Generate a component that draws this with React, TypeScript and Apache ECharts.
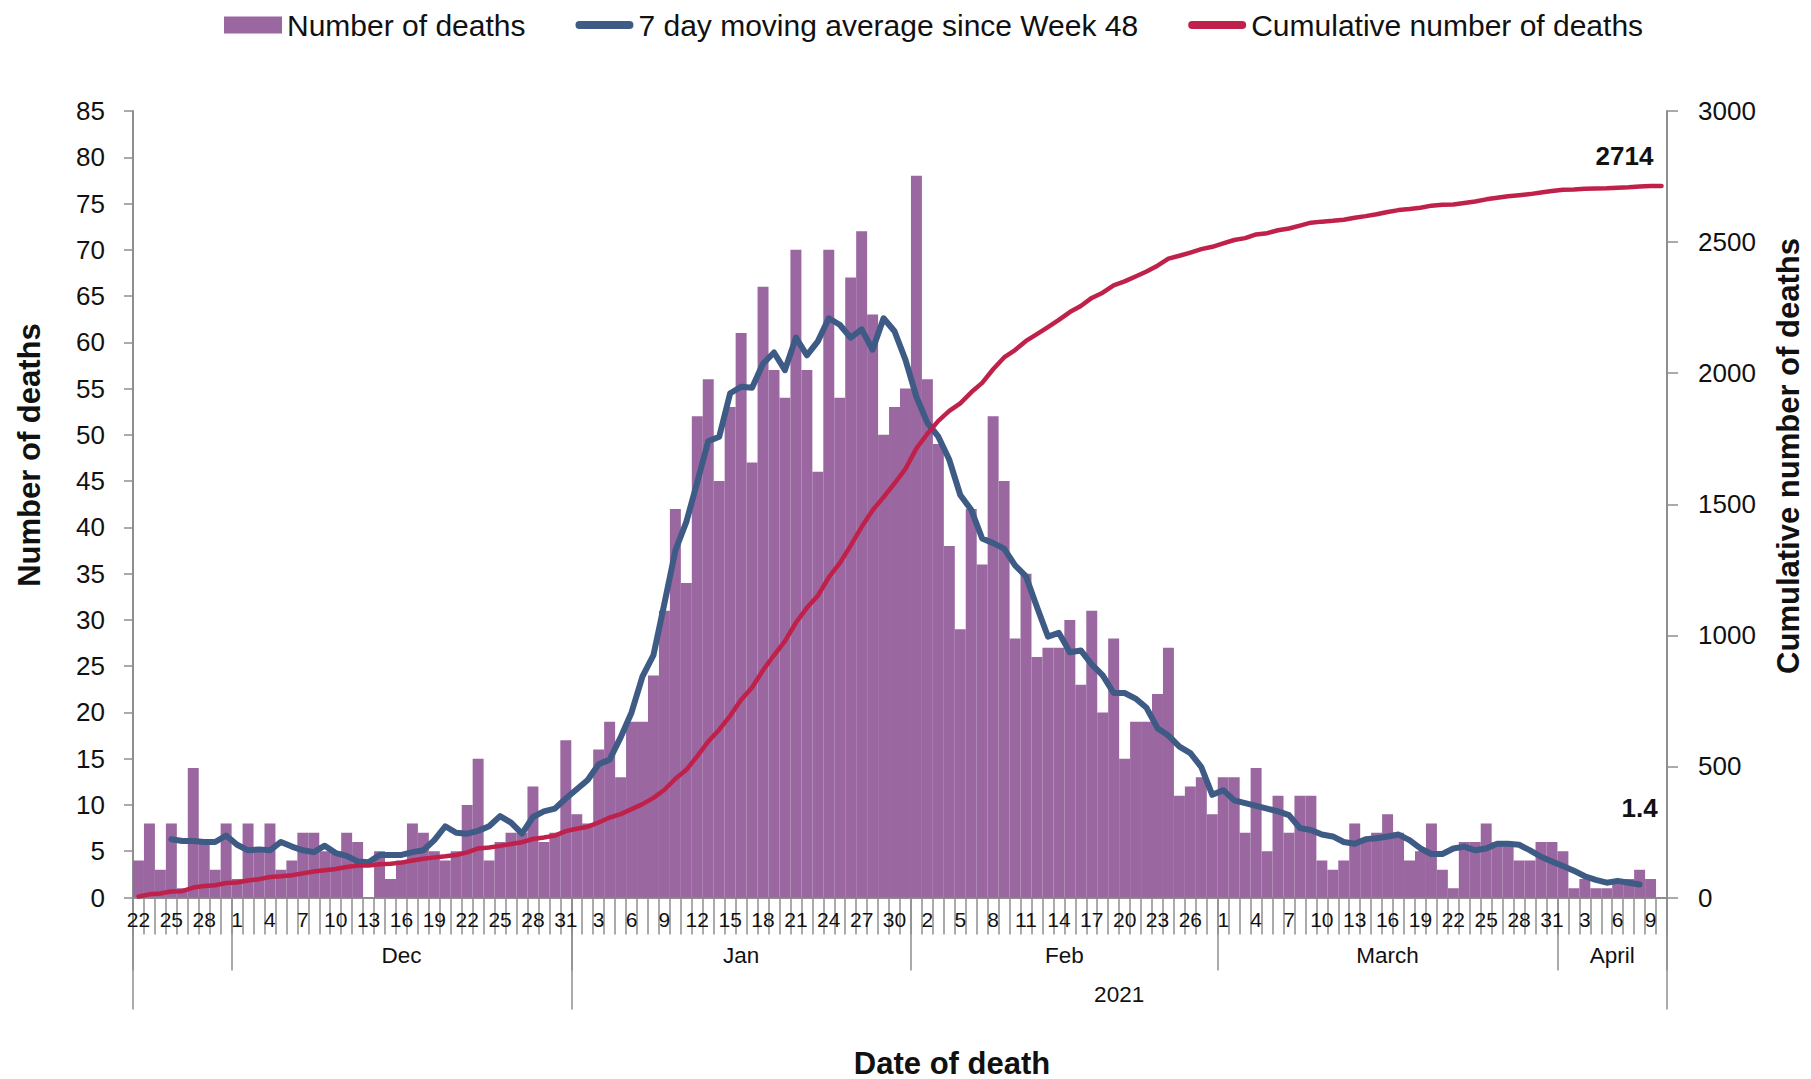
import React, { useEffect, useRef } from "react";
import * as echarts from "echarts";

// ---------- data ----------
const START_UTC = Date.UTC(2020, 10, 22); // 22 Nov 2020
const DAY_COUNT = 140; // 22 Nov 2020 .. 10 Apr 2021

const monthNames: Record<number, string> = { 10: "", 11: "Dec", 0: "Jan", 1: "Feb", 2: "March", 3: "April" };
const yearNames: Record<number, string> = { 2020: "", 2021: "2021" };

// Number of deaths per day (22 Nov -> 10 Apr)
const deaths = [
  4, 8, 3, 8, 1, 14, 6, 3, 8, 2,
  8, 5, 8, 3, 4, 7, 7, 5, 5, 7,
  6, 0, 5, 2, 4, 8, 7, 5, 4, 5,
  10, 15, 4, 6, 7, 7, 12, 6, 7, 17,
  9, 8, 16, 19, 13, 19, 19, 24, 31, 42,
  34, 52, 56, 45, 53, 61, 47, 66, 57, 54,
  70, 57, 46, 70, 54, 67, 72, 63, 50, 53,
  55, 78, 56, 49, 38, 29, 42, 36, 52, 45,
  28, 35, 26, 27, 27, 30, 23, 31, 20, 28,
  15, 19, 19, 22, 27, 11, 12, 13, 9, 13,
  13, 7, 14, 5, 11, 7, 11, 11, 4, 3,
  4, 8, 6, 7, 9, 7, 4, 5, 8, 3,
  1, 6, 6, 8, 6, 6, 4, 4, 6, 6,
  5, 1, 2, 1, 1, 2, 2, 3, 2, 0,
];

// 7 day moving average since Week 48 (25 Nov -> 8 Apr)
const movingAverage: (number | null)[] = [
  null, null, null, 6.3, 6.1, 6.1, 6.0, 6.0, 6.7, 5.7,
  5.1, 5.2, 5.1, 6.0, 5.5, 5.1, 4.9, 5.6, 4.8, 4.5,
  3.9, 3.8, 4.6, 4.6, 4.6, 4.9, 5.1, 6.2, 7.7, 7.0,
  6.9, 7.2, 7.7, 8.8, 8.1, 6.9, 8.7, 9.3, 9.6, 10.7,
  11.7, 12.7, 14.4, 14.9, 17.3, 20.0, 23.9, 26.2, 31.8, 37.5,
  40.6, 44.9, 49.3, 49.8, 54.5, 55.2, 55.1, 57.7, 58.9, 57.0,
  60.5, 58.6, 60.1, 62.6, 61.9, 60.5, 61.4, 59.2, 62.6, 61.2,
  58.1, 54.1, 51.3, 49.8, 47.3, 43.5, 41.9, 38.8, 38.3, 37.7,
  35.9, 34.7, 31.4, 28.2, 28.6, 26.5, 26.7, 25.2, 24.0, 22.1,
  22.1, 21.5, 20.5, 18.3, 17.5, 16.3, 15.6, 14.1, 11.1, 11.6,
  10.5, 10.2, 9.9, 9.6, 9.3, 8.9, 7.5, 7.3, 6.8, 6.6,
  6.0, 5.8, 6.3, 6.4, 6.6, 6.8, 6.2, 5.3, 4.7, 4.7,
  5.3, 5.5, 5.1, 5.3, 5.8, 5.8, 5.7, 5.1, 4.4, 3.9,
  3.4, 2.9, 2.3, 1.9, 1.6, 1.8, 1.6, 1.4,
];

// Cumulative number of deaths
const cumulativeDeaths = [
  4, 12, 15, 23, 24, 38, 44, 47, 55, 57,
  65, 70, 78, 81, 85, 92, 99, 104, 109, 116,
  122, 122, 127, 129, 133, 141, 148, 153, 157, 162,
  172, 187, 191, 197, 204, 211, 223, 229, 236, 253,
  262, 270, 286, 305, 318, 337, 356, 380, 411, 453,
  487, 539, 595, 640, 693, 754, 801, 867, 924, 978,
  1048, 1105, 1151, 1221, 1275, 1342, 1414, 1477, 1527, 1580,
  1635, 1713, 1769, 1818, 1856, 1885, 1927, 1963, 2015, 2060,
  2088, 2123, 2149, 2176, 2203, 2233, 2256, 2287, 2307, 2335,
  2350, 2369, 2388, 2410, 2437, 2448, 2460, 2473, 2482, 2495,
  2508, 2515, 2529, 2534, 2545, 2552, 2563, 2574, 2578, 2581,
  2585, 2593, 2599, 2606, 2615, 2622, 2626, 2631, 2639, 2642,
  2643, 2649, 2655, 2663, 2669, 2675, 2679, 2683, 2689, 2695,
  2700, 2701, 2703, 2704, 2705, 2707, 2709, 2712, 2714, 2714,
];

const leftTicks = { min: 0, max: 85, interval: 5 };
const rightTicks = { min: 0, max: 3000, interval: 500 };

// ---------- derived categories ----------
const dates = Array.from({ length: DAY_COUNT }, (_, i) => new Date(START_UTC + i * 86400000));
const dayLabels = dates.map((d) => String(d.getUTCDate()));

function segments(keyOf: (d: Date) => number) {
  const segs: { start: number; end: number; key: number }[] = [];
  dates.forEach((d, i) => {
    const k = keyOf(d);
    if (!segs.length || segs[segs.length - 1].key !== k) segs.push({ start: i, end: i + 1, key: k });
    else segs[segs.length - 1].end = i + 1;
  });
  return segs;
}
const monthSegs = segments((d) => d.getUTCMonth());
const yearSegs = segments((d) => d.getUTCFullYear());

const monthBounds = Array.from(new Set(monthSegs.flatMap((s) => [s.start, s.end])));
const yearBounds = Array.from(new Set(yearSegs.flatMap((s) => [s.start, s.end])));
const monthMids = monthSegs.filter((s) => monthNames[s.key]).map((s) => ({ v: (s.start + s.end) / 2, t: monthNames[s.key] }));
const yearMids = yearSegs.filter((s) => yearNames[s.key]).map((s) => ({ v: (s.start + s.end) / 2, t: yearNames[s.key] }));

const PURPLE = "#9A67A1";
const BLUE = "#3D5B84";
const RED = "#C0214A";
const AX = "#8E8E8E";
const TXT = "#111111";
const FONT = "'Liberation Sans', Arial, sans-serif";

const lineIcon = "path://M0,0 M58,17 M4,4.5 L54,4.5 A4,4 0 0 1 54,12.5 L4,12.5 A4,4 0 0 1 4,4.5 Z";

export default function App() {
  const ref = useRef<HTMLDivElement>(null);

  useEffect(() => {
    if (!ref.current) return;
    const chart = echarts.init(ref.current, null, { renderer: "svg" });

    const lastCum = cumulativeDeaths.length - 1;
    const lastMa = movingAverage.length - 1;

    const endLabel = (offset: number[]) => ({
      show: true,
      position: "top",
      formatter: "{c}",
      offset,
      fontSize: 26,
      fontWeight: "bold",
      color: TXT,
      fontFamily: FONT,
    });

    const option: any = {
      animation: false,
      backgroundColor: "#ffffff",
      textStyle: { fontFamily: FONT, color: TXT },
      legend: {
        top: 5,
        left: 219,
        itemWidth: 58,
        itemHeight: 17,
        itemGap: 50,
        textStyle: { fontSize: 30, color: TXT, fontFamily: FONT },
        data: [
          { name: "Number of deaths", icon: "rect" },
          { name: "7 day moving average since Week 48", icon: lineIcon },
          { name: "Cumulative number of deaths", icon: lineIcon },
        ],
      },
      grid: { left: 133, right: 144, top: 111, bottom: 181.5, containLabel: false },
      xAxis: [
        {
          type: "category",
          data: dayLabels,
          position: "bottom",
          boundaryGap: true,
          axisLine: { show: true, onZero: false, lineStyle: { color: AX, width: 2 } },
          axisTick: { show: true, interval: 0, length: 37, lineStyle: { color: AX, width: 1.5 } },
          axisLabel: {
            interval: (i: number) => i % 3 === 0,
            margin: 11,
            fontSize: 21,
            color: TXT,
            fontFamily: FONT,
          },
          splitLine: { show: false },
        },
        {
          type: "value",
          min: 0,
          max: DAY_COUNT,
          position: "bottom",
          axisLine: { show: false, onZero: false },
          splitLine: { show: false },
          axisTick: { show: true, customValues: monthBounds, length: 73, lineStyle: { color: AX, width: 1.5 } },
          axisLabel: {
            customValues: monthMids.map((m) => m.v),
            formatter: (v: number) => (monthMids.find((m) => Math.abs(m.v - v) < 0.01) || { t: "" }).t,
            margin: 46,
            fontSize: 22.5,
            color: TXT,
            fontFamily: FONT,
          },
        },
        {
          type: "value",
          min: 0,
          max: DAY_COUNT,
          position: "bottom",
          axisLine: { show: false, onZero: false },
          splitLine: { show: false },
          axisTick: { show: true, customValues: yearBounds, length: 112, lineStyle: { color: AX, width: 1.5 } },
          axisLabel: {
            customValues: yearMids.map((m) => m.v),
            formatter: (v: number) => (yearMids.find((m) => Math.abs(m.v - v) < 0.01) || { t: "" }).t,
            margin: 85,
            fontSize: 22.5,
            color: TXT,
            fontFamily: FONT,
          },
        },
      ],
      yAxis: [
        {
          type: "value",
          position: "left",
          min: leftTicks.min,
          max: leftTicks.max,
          interval: leftTicks.interval,
          axisLine: { show: true, onZero: false, lineStyle: { color: AX, width: 2 } },
          axisTick: { show: true, inside: false, length: 9, lineStyle: { color: AX, width: 1.5 } },
          axisLabel: { margin: 28, fontSize: 26, color: TXT, fontFamily: FONT },
          splitLine: { show: false },
        },
        {
          type: "value",
          position: "right",
          min: rightTicks.min,
          max: rightTicks.max,
          interval: rightTicks.interval,
          axisLine: { show: true, onZero: false, lineStyle: { color: AX, width: 2 } },
          axisTick: { show: true, inside: false, length: 11, lineStyle: { color: AX, width: 1.5 } },
          axisLabel: {
            margin: 31,
            fontSize: 26,
            color: TXT,
            fontFamily: FONT,
            formatter: (v: number) => String(v),
          },
          splitLine: { show: false },
        },
      ],
      series: [
        {
          name: "Number of deaths",
          type: "bar",
          xAxisIndex: 0,
          yAxisIndex: 0,
          data: deaths,
          barCategoryGap: "0%",
          barGap: "0%",
          itemStyle: { color: PURPLE },
          z: 1,
        },
        {
          name: "7 day moving average since Week 48",
          type: "line",
          xAxisIndex: 0,
          yAxisIndex: 0,
          data: movingAverage,
          showSymbol: false,
          symbol: "none",
          connectNulls: false,
          itemStyle: { color: BLUE },
          lineStyle: { color: BLUE, width: 6, cap: "round", join: "round" },
          markPoint: {
            symbol: "circle",
            symbolSize: 2,
            itemStyle: { color: "rgba(0,0,0,0)" },
            label: endLabel([0, -58]),
            data: [{ coord: [lastMa, movingAverage[lastMa]], value: movingAverage[lastMa] }],
          },
          z: 3,
        },
        {
          name: "Cumulative number of deaths",
          type: "line",
          xAxisIndex: 0,
          yAxisIndex: 1,
          data: cumulativeDeaths,
          showSymbol: false,
          symbol: "none",
          itemStyle: { color: RED },
          lineStyle: { color: RED, width: 4.5, cap: "round", join: "round" },
          markPoint: {
            symbol: "circle",
            symbolSize: 2,
            itemStyle: { color: "rgba(0,0,0,0)" },
            label: endLabel([-37, -11]),
            data: [{ coord: [lastCum, cumulativeDeaths[lastCum]], value: cumulativeDeaths[lastCum] }],
          },
          z: 4,
        },
      ],
      graphic: [
        {
          type: "text",
          x: 29,
          y: 455,
          rotation: Math.PI / 2,
          style: {
            text: "Number of deaths",
            fontSize: 31,
            fontWeight: "bold",
            fontFamily: FONT,
            fill: TXT,
            align: "center",
            verticalAlign: "middle",
          },
        },
        {
          type: "text",
          x: 1788,
          y: 456,
          rotation: Math.PI / 2,
          style: {
            text: "Cumulative number of deaths",
            fontSize: 31,
            fontWeight: "bold",
            fontFamily: FONT,
            fill: TXT,
            align: "center",
            verticalAlign: "middle",
          },
        },
        {
          type: "text",
          x: 952,
          y: 1063,
          style: {
            text: "Date of death",
            fontSize: 31,
            fontWeight: "bold",
            fontFamily: FONT,
            fill: TXT,
            align: "center",
            verticalAlign: "middle",
          },
        },
      ],
    };

    chart.setOption(option);
    return () => chart.dispose();
  }, []);

  return (
    <div
      ref={ref}
      style={{ position: "fixed", left: 0, top: 0, width: 1811, height: 1079, background: "#fff" }}
    />
  );
}
